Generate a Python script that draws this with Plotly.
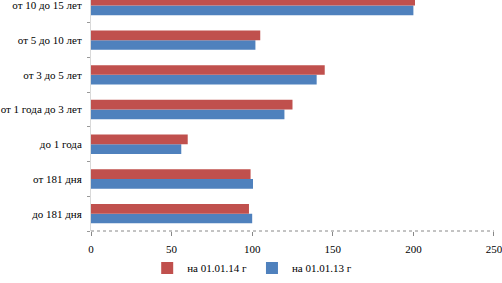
import plotly.graph_objects as go

categories = ["до 181 дня", "от 181 дня", "до 1 года", "от 1 года до 3 лет",
              "от 3 до 5 лет", "от 5 до 10 лет", "от 10 до 15 лет"]
values_2014 = [98, 99, 60, 125, 145, 105, 201]
values_2013 = [100, 100.5, 56, 120, 140, 102, 200]
name_2014 = "на 01.01.14 г"
name_2013 = "на 01.01.13 г"
x_ticks = [0, 50, 100, 150, 200, 250]

font_family = "Liberation Serif"

fig = go.Figure()
fig.add_trace(go.Bar(y=categories, x=values_2013, name=name_2013, orientation="h",
                     marker=dict(color="#4F81BD", line=dict(width=0))))
fig.add_trace(go.Bar(y=categories, x=values_2014, name=name_2014, orientation="h",
                     marker=dict(color="#C0504D", line=dict(width=0))))

fig.update_layout(
    width=502, height=283,
    margin=dict(l=91, r=8, t=0, b=46),
    paper_bgcolor="white", plot_bgcolor="white",
    barmode="group", bargap=0.44, bargroupgap=0,
    font=dict(family=font_family, size=11, color="#000000"),
    legend=dict(orientation="h", x=0.40, xanchor="center", y=-0.16, yanchor="middle",
                traceorder="reversed", font=dict(size=11, family=font_family),
                itemwidth=30, tracegroupgap=0),
    showlegend=True,
)
fig.update_xaxes(range=[0, 250.01], tickvals=x_ticks, ticks="outside", ticklen=4,
                 tickcolor="#888888", showgrid=False, zeroline=False, showline=False,
                 ticklabeloverflow="allow", ticklabelstandoff=4,
                 tickfont=dict(size=11, family=font_family))
fig.update_yaxes(type="category", categoryorder="array", categoryarray=categories,
                 range=[-0.5, 6.157], showgrid=False, zeroline=False,
                 showline=True, linecolor="#D9D9D9", linewidth=1,
                 ticks="outside", tickson="boundaries", ticklen=3, tickcolor="#999999",
                 ticklabelstandoff=6,
                 tickfont=dict(size=11, family=font_family))
fig.add_shape(type="line", xref="x", yref="paper", x0=0, x1=250, y0=0, y1=0,
              line=dict(color="#888888", width=1, dash="dot"))

fig.write_html("out.html")
